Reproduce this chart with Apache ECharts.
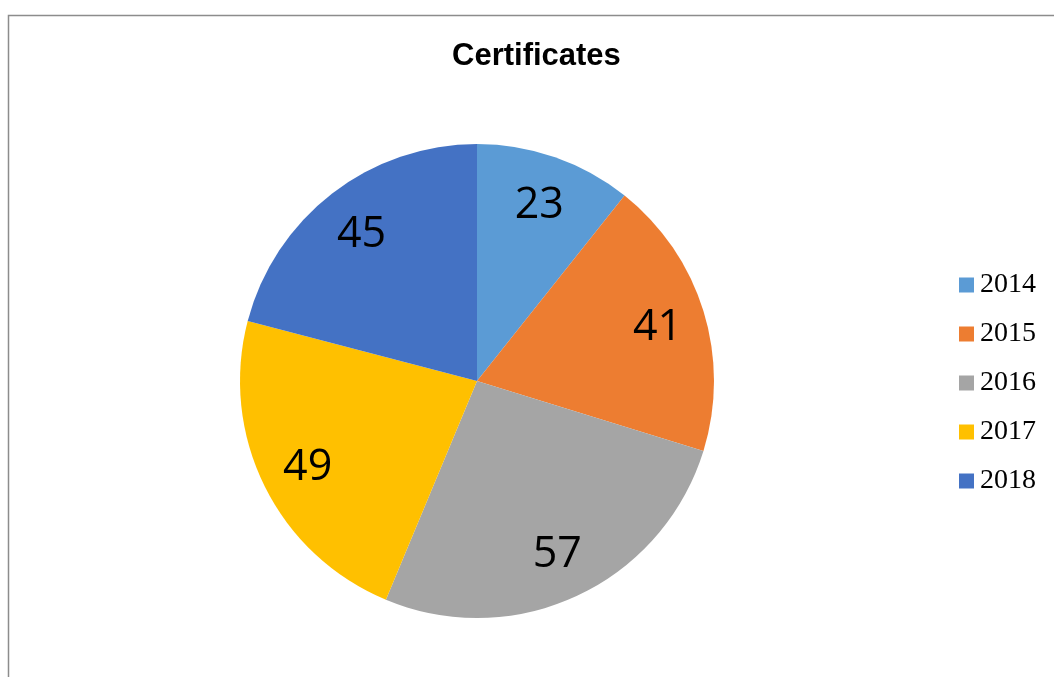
<!DOCTYPE html>
<html>
<head>
<meta charset="utf-8">
<script src="https://cdn.jsdelivr.net/npm/echarts@6/dist/echarts.min.js"></script>
<style>
html, body { margin: 0; padding: 0; background: #fff; }
#chart { width: 1054px; height: 677px; }
</style>
</head>
<body>
<div id="chart"></div>
<script>
var years = ['2014', '2015', '2016', '2017', '2018'];
var certificates = [23, 41, 57, 49, 45];
var sliceColors = ['#5B9BD5', '#ED7D31', '#A5A5A5', '#FFC000', '#4472C4'];

var dom = document.getElementById('chart');
var myChart = echarts.init(dom);

var pieData = years.map(function (y, i) {
    return { name: y, value: certificates[i], itemStyle: { color: sliceColors[i] } };
});
var labelData = years.map(function (y, i) {
    return { name: y, value: certificates[i] };
});

var option = {
    backgroundColor: '#ffffff',
    animation: false,
    title: {
        text: 'Certificates',
        left: 447,
        top: 36,
        textStyle: {
            fontFamily: 'Liberation Sans',
            fontWeight: 'bold',
            fontSize: 31,
            color: '#000'
        }
    },
    legend: {
        orient: 'vertical',
        left: 959,
        top: 271,
        padding: 0,
        itemWidth: 15,
        itemHeight: 15,
        itemGap: 21,
        icon: 'rect',
        data: years,
        selectedMode: false,
        textStyle: {
            fontFamily: 'Liberation Serif',
            fontSize: 28,
            lineHeight: 28,
            color: '#000',
            padding: [0, 0, 0, 1]
        }
    },
    graphic: [{
        type: 'rect',
        shape: { x: 8.5, y: 15.5, width: 1100, height: 700 },
        style: { fill: 'none', stroke: '#8c8c8c', lineWidth: 1.5 },
        silent: true,
        z: 100
    }],
    series: [{
        type: 'pie',
        center: [477, 381],
        radius: [0, 237],
        startAngle: 90,
        clockwise: true,
        label: { show: false },
        labelLine: { show: false },
        emphasis: { disabled: true },
        itemStyle: { borderWidth: 0 },
        data: pieData
    }, {
        type: 'pie',
        center: [477, 384],
        radius: [0, 372],
        startAngle: 90,
        clockwise: true,
        silent: true,
        itemStyle: { color: 'rgba(0,0,0,0)', borderWidth: 0 },
        label: {
            show: true,
            position: 'inside',
            formatter: '{c}',
            fontFamily: 'Open Sans',
            fontSize: 43,
            color: '#000'
        },
        labelLine: { show: false },
        emphasis: { disabled: true },
        data: labelData
    }]
};

if (option && typeof option === 'object') {
    myChart.setOption(option);
}
</script>
</body>
</html>
